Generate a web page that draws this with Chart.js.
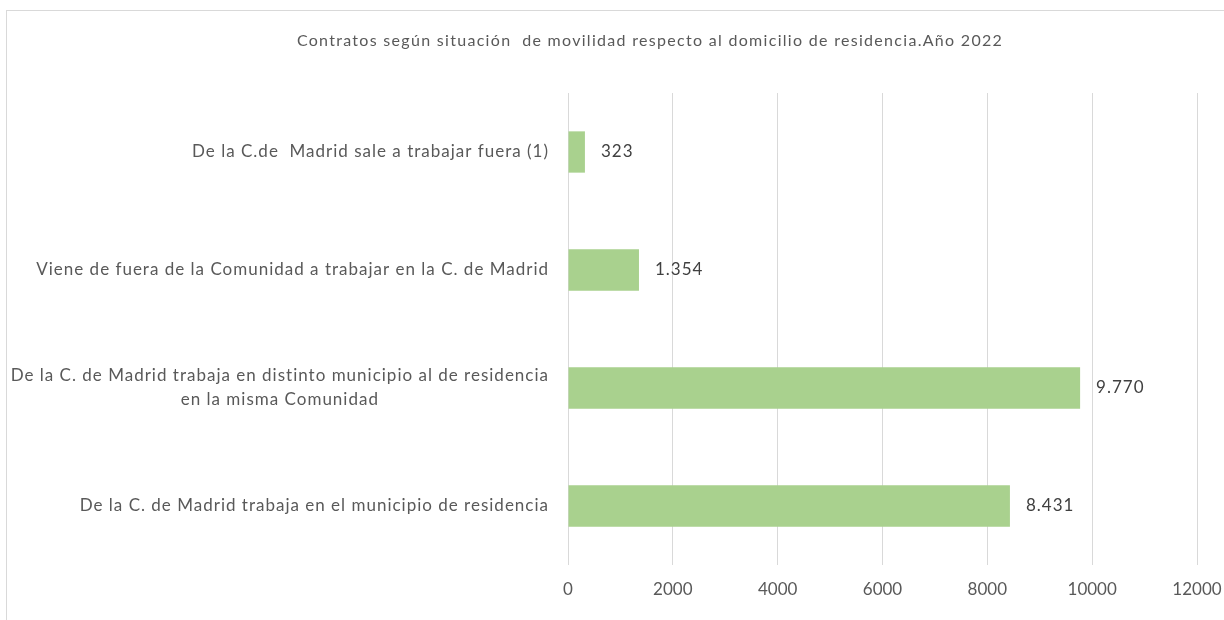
<!DOCTYPE html>
<html lang="es">
<head>
<meta charset="UTF-8">
<title>Contratos según situación de movilidad</title>
<script src="https://cdn.jsdelivr.net/npm/chart.js"></script>
<style>
    body { margin: 0; overflow: hidden; background: #fff; }
    #box { position: absolute; left: 6px; top: 10px; width: 1286px; height: 620px; border: 1px solid #d9d9d9; }
</style>
</head>
<body>
<div id="box"><canvas id="myChart"></canvas></div>

<script>
    const categories = [
        'De la C.de  Madrid sale a trabajar fuera (1)',
        'Viene de fuera de la Comunidad a trabajar en la C. de Madrid',
        ['De la C. de Madrid trabaja en distinto municipio al de residencia', 'en la misma Comunidad'],
        'De la C. de Madrid trabaja en el municipio de residencia'
    ];
    const contratos = [323, 1354, 9770, 8431];
    const xTicks = { min: 0, max: 12000, step: 2000 };
    const titleText = 'Contratos según situación  de movilidad respecto al domicilio de residencia.Año 2022';

    const FONT = 'Lato';
    const textColor = '#595959';

    // thousands separator with a dot, like the original
    function fmt(v) {
        return String(v).replace(/\B(?=(\d{3})+(?!\d))/g, '.');
    }

    // title, category labels and value labels are drawn by hand
    // (letter spacing + centred second line of the long label)
    const textPlugin = {
        id: 'textPlugin',
        afterDraw(chart) {
            const ctx = chart.ctx;
            const scale = chart.scales.y;
            ctx.save();
            ctx.textBaseline = 'middle';

            // title
            ctx.font = '16px ' + FONT;
            ctx.letterSpacing = '1.3px';
            ctx.fillStyle = textColor;
            ctx.textAlign = 'center';
            ctx.fillText(titleText, chart.width / 2, 30);

            // categories
            ctx.font = '17px ' + FONT;
            ctx.letterSpacing = '1px';
            const right = scale.right - 19;
            categories.forEach((lab, i) => {
                const lines = Array.isArray(lab) ? lab : [lab];
                const maxW = Math.max(...lines.map(l => ctx.measureText(l).width));
                const cx = right - maxW / 2;
                const y0 = scale.getPixelForTick(i) - (lines.length - 1) * 12;
                lines.forEach((l, j) => ctx.fillText(l, cx, y0 + j * 24));
            });

            // values at the end of each bar
            ctx.fillStyle = '#404040';
            ctx.textAlign = 'left';
            chart.getDatasetMeta(0).data.forEach((bar, i) => {
                ctx.fillText(fmt(contratos[i]), bar.x + 16, bar.y);
            });
            ctx.restore();
        }
    };

    const ctx = document.getElementById('myChart').getContext('2d');
    const myChart = new Chart(ctx, {
        type: 'bar',
        data: {
            labels: categories,
            datasets: [{
                data: contratos,
                backgroundColor: '#a9d18e',
                borderWidth: 0,
                barPercentage: 0.35,
                categoryPercentage: 1
            }]
        },
        options: {
            indexAxis: 'y',
            responsive: true,
            maintainAspectRatio: false,
            animation: false,
            layout: { padding: { left: 0, right: 96, top: 82, bottom: 26 } },
            plugins: {
                legend: { display: false },
                tooltip: { enabled: false },
                title: { display: false }
            },
            scales: {
                x: {
                    min: xTicks.min,
                    max: xTicks.max,
                    ticks: {
                        stepSize: xTicks.step,
                        color: textColor,
                        font: { family: FONT, size: 17 },
                        padding: 14,
                        callback: v => String(v)
                    },
                    grid: { color: '#d9d9d9', drawTicks: false },
                    border: { display: false },
                    afterFit(scale) { scale.height = 40; }
                },
                y: {
                    ticks: { display: false },
                    grid: { display: false },
                    border: { display: false },
                    afterFit(scale) { scale.width = 561; }
                }
            }
        },
        plugins: [textPlugin]
    });
</script>
</body>
</html>
